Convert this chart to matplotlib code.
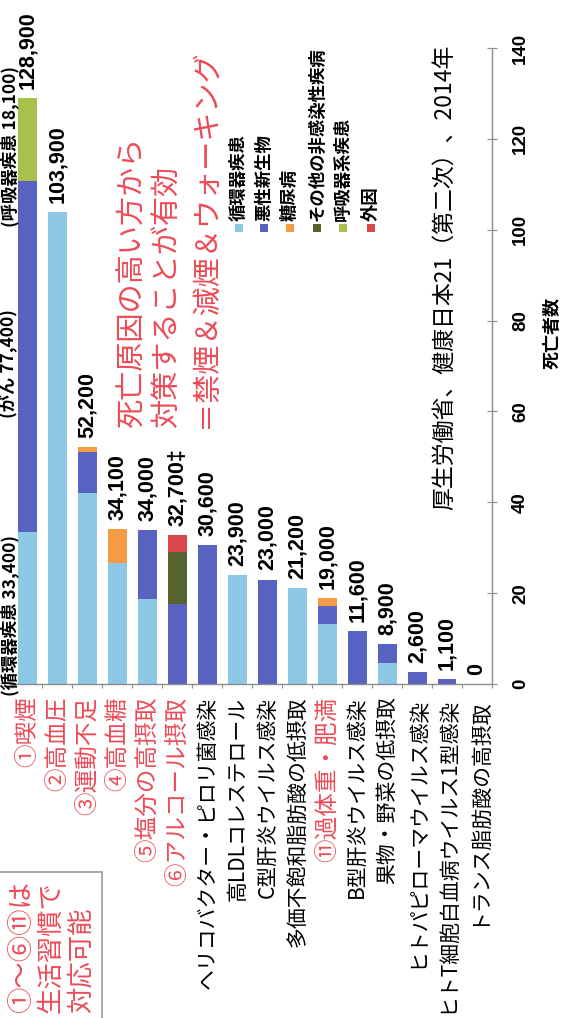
import numpy as np
import matplotlib
matplotlib.use('Agg')
import matplotlib.pyplot as plt
from matplotlib import font_manager
from matplotlib.patches import Rectangle

plt.rcParams['font.family'] = ['Noto Sans CJK JP', 'DejaVu Sans']

# --- data (deaths, thousands) ---
categories = ['①喫煙', '②高血圧', '③運動不足', '④高血糖', '⑤塩分の高摂取',
              '⑥アルコール摂取', 'ヘリコバクター・ピロリ菌感染', '高LDLコレステロール',
              'C型肝炎ウイルス感染', '多価不飽和脂肪酸の低摂取', '⑪過体重・肥満',
              'B型肝炎ウイルス感染', '果物・野菜の低摂取', 'ヒトパピローマウイルス感染',
              'ヒトT細胞白血病ウイルス1型感染', 'トランス脂肪酸の高摂取']
lifestyle = [True, True, True, True, True, True, False, False, False, False,
             True, False, False, False, False, False]
total_labels = ['128,900', '103,900', '52,200', '34,100', '34,000', '32,700‡',
                '30,600', '23,900', '23,000', '21,200', '19,000', '11,600',
                '8,900', '2,600', '1,100', '0']

circulatory = [33.4, 103.9, 42.0, 26.6, 18.7, 0, 0, 23.9, 0, 21.2, 13.2, 0, 4.6, 0, 0, 0]
cancer      = [77.4, 0, 9.0, 0, 15.3, 17.6, 30.6, 0, 23.0, 0, 4.0, 11.6, 4.3, 2.6, 1.1, 0]
diabetes    = [0, 0, 1.2, 7.5, 0, 0, 0, 0, 0, 0, 1.8, 0, 0, 0, 0, 0]
other_ncd   = [0, 0, 0, 0, 0, 11.5, 0, 0, 0, 0, 0, 0, 0, 0, 0, 0]
respiratory = [18.1, 0, 0, 0, 0, 0, 0, 0, 0, 0, 0, 0, 0, 0, 0, 0]
external    = [0, 0, 0, 0, 0, 3.6, 0, 0, 0, 0, 0, 0, 0, 0, 0, 0]

series = [circulatory, cancer, diabetes, other_ncd, respiratory, external]
legend_labels = ['循環器疾患', '悪性新生物', '糖尿病', 'その他の非感染性疾病', '呼吸器系疾患', '外因']
colors = ['#8dc8e4', '#5862c0', '#f59a45', '#56632e', '#a9c14c', '#d8474a']

smoking_notes = ['(循環器疾患 33,400)', '(がん 77,400)', '(呼吸器疾患 18,100)']
message = ['死亡原因の高い方から', '対策することが有効', '＝禁煙＆減煙＆ウォーキング']
box_lines = ['①〜⑥⑪は', '生活習慣で', '対応可能']
source = '厚生労働省、健康日本21（第二次）、2014年'
value_axis_label = '死亡者数'

RED = '#ec4b57'
GRAY = '#8c8c8c'
W, H = 563, 1018


def fx(px):
    return px / W


def fy(py):
    return 1 - py / H


names = {f.name for f in font_manager.fontManager.ttflist}
if 'Liberation Sans Narrow' in names:
    num_font, num_size, tick_size = 'Liberation Sans Narrow', 18.5, 15.5
else:
    num_font, num_size, tick_size = 'Liberation Sans', 15.5, 13.5

fig = plt.figure(figsize=(W / 100, H / 100), dpi=100)
ax = fig.add_axes([fx(10), fy(684), (492 - 10) / W, (684 - 48) / H])

x = np.arange(len(categories))
bottom = np.zeros(len(categories))
for vals, col in zip(series, colors):
    ax.bar(x, vals, width=0.63, bottom=bottom, color=col, linewidth=0)
    bottom += np.array(vals)

# value labels on top of bars
for xi, tot, lab in zip(x, bottom, total_labels):
    ax.annotate(lab, (xi, tot), xytext=(0, 6.5), textcoords='offset points',
                rotation=90, ha='center', va='bottom', fontsize=num_size,
                fontweight='bold', family=[num_font, 'DejaVu Sans'])

# breakdown notes for smoking bar
seg_bottom = 0
for note, vals in zip(smoking_notes, [circulatory, cancer, respiratory]):
    mid = seg_bottom + vals[0] / 2
    ax.annotate(note, (0, mid), xytext=(-13, -5), textcoords='offset points',
                rotation=90, ha='center', va='center', fontsize=12.5,
                fontweight='bold', annotation_clip=False)
    seg_bottom += vals[0]

ax.set_xlim(-0.583, 15.483)
ax.set_ylim(0, 140)

# category axis (bottom)
ax.set_xticks(x)
ax.set_xticklabels(categories, rotation=90)
for lbl, habit in zip(ax.get_xticklabels(), lifestyle):
    lbl.set_color(RED if habit else 'black')
    lbl.set_fontsize(17 if habit else 15)
    lbl.set_va('top')
ax.tick_params(axis='x', which='major', length=0, pad=9)
ax.set_xticks(np.arange(-0.5, 16, 1), minor=True)
ax.tick_params(axis='x', which='minor', length=3, color=GRAY, width=0.8)

# value axis (right)
ax.yaxis.tick_right()
ax.set_yticks(np.arange(0, 141, 20))
ax.set_yticklabels([str(v) for v in range(0, 141, 20)], rotation=90,
                   va='center', fontsize=tick_size, fontweight='bold',
                   family=[num_font, 'DejaVu Sans'])
ax.tick_params(axis='y', direction='inout', length=7, color=GRAY, width=0.8, pad=11)

for side in ['left', 'top']:
    ax.spines[side].set_visible(False)
for side in ['right', 'bottom']:
    ax.spines[side].set_color(GRAY)
    ax.spines[side].set_linewidth(1.0)

fig.text(fx(552), fy(333), value_axis_label, rotation=90, ha='center', va='center',
         fontsize=13, fontweight='bold')

# legend (vertical text over small squares)
leg_x = [239, 264, 290, 317, 343, 371]
for px, lab, col in zip(leg_x, legend_labels, colors):
    fig.add_artist(Rectangle((fx(px - 4), fy(232)), 8 / W, 8 / H,
                             transform=fig.transFigure, color=col, lw=0))
    fig.text(fx(px), fy(221), lab, rotation=90, ha='center', va='bottom',
             fontsize=12.5, fontweight='bold')

# message in red
for px, line in zip([133, 168, 206], message):
    fig.text(fx(px), fy(428), line, rotation=90, ha='center', va='bottom',
             fontsize=21, color=RED)

# source
fig.text(fx(444), fy(510), source, rotation=90, ha='center', va='bottom', fontsize=16.5)

# boxed note
fig.add_artist(Rectangle((fx(-2), fy(1025)), 104 / W, (1025 - 872) / H,
                         transform=fig.transFigure, fill=False, ec='#9a9a9a', lw=1.2))
for px, line in zip([22, 51, 81], box_lines):
    fig.text(fx(px), fy(1013), line, rotation=90, ha='center', va='bottom',
             fontsize=19, color=RED)

fig.savefig('out.png', dpi=100)
